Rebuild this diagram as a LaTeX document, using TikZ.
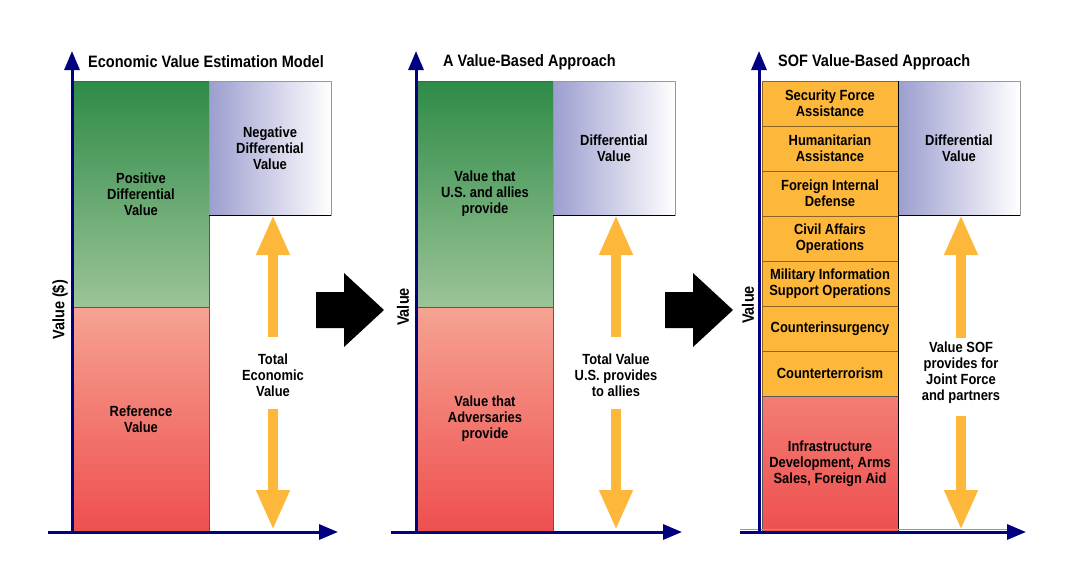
\documentclass[tikz,border=0pt]{standalone}
\usepackage{fontspec}
\setmainfont{Liberation Sans}[FakeStretch=0.88]
\usepackage{xcolor}
\usepackage{tikz}
\usetikzlibrary{arrows.meta, positioning}
\definecolor{axisblue}{HTML}{000080}
\definecolor{greentop}{HTML}{2E8B47}
\definecolor{greenbot}{HTML}{9CC497}
\definecolor{redtop}{HTML}{F6A392}
\definecolor{redbot}{HTML}{EE4F4F}
\definecolor{lilac}{HTML}{9C9ECF}
\definecolor{sofgold}{HTML}{FDB73A}
\newcommand{\boxfont}{\bfseries\fontsize{14.7}{16}\selectfont}
\newcommand{\headfont}{\bfseries\fontsize{16.5}{19}\selectfont}
\tikzset{
  valbox/.style={draw=black!65, line width=0.8pt, outer sep=0pt, inner sep=2pt, align=center, font=\boxfont},
  posbox/.style={valbox, top color=greentop, bottom color=greenbot, minimum width=136pt, minimum height=226pt},
  refbox/.style={valbox, top color=redtop, bottom color=redbot, minimum width=136pt, minimum height=224pt},
  diffbox/.style={valbox, draw=black!40, left color=lilac, right color=white, minimum width=122pt, minimum height=134pt},
  sofbox/.style={valbox, fill=sofgold, draw=sofgold!55!black, minimum width=136pt, minimum height=45pt},
  axis/.style={draw=axisblue, line width=3pt, -{Triangle[length=19pt,width=15pt]}},
  valarrow/.style={draw=sofgold, line width=10pt, -{Triangle[length=40pt,width=31pt]}},
  paneltitle/.style={anchor=west, inner sep=0pt, font=\headfont},
  axislabel/.style={rotate=90, inner sep=0pt, font=\headfont},
  arrowtext/.style={align=center, inner sep=0pt, font=\boxfont}
}

\begin{document}
\begin{tikzpicture}[x=1pt, y=-1pt]
  \useasboundingbox[fill=white] (0,0) rectangle (1067,560);

  % panel 1
  \node[posbox, anchor=north west] (pos1) at (73,81) {Positive\\Differential\\Value};
  \node[refbox, below=0pt of pos1] (ref1) {Reference\\Value};
  \node[diffbox, below right=0pt and 0pt of pos1.north east] (neg1) {Negative\\Differential\\Value};
  \draw[black, line width=0.8pt] (neg1.south west) -- (neg1.south east);
  \node[paneltitle] (title1) at (88,62) {Economic Value Estimation Model};
  \node[axislabel] (ylab1) at (60,310) {Value (\$)};
  \node[arrowtext] (tev1) at (273,375) {Total\\Economic\\Value};
  \coordinate (o1) at (72,532);
  \coordinate (y1) at (72,51);
  \coordinate (s1) at (48,532);
  \coordinate (x1) at (338,532);
  \draw[axis] (o1) -- (y1);
  \draw[axis] (s1) -- (x1);
  \draw[valarrow, shorten <=16pt] (tev1.north) -- (tev1.north |- neg1.south);
  \draw[valarrow, shorten <=12pt, shorten >=2pt] (tev1.south) -- (tev1.south |- o1);

  % panel 2
  \node[posbox, anchor=north west] (pos2) at (417,81) {Value that\\U.S. and allies\\provide};
  \node[refbox, below=0pt of pos2] (ref2) {Value that\\Adversaries\\provide};
  \node[diffbox, below right=0pt and 0pt of pos2.north east] (diff2) {Differential\\Value};
  \draw[black, line width=0.8pt] (diff2.south west) -- (diff2.south east);
  \node[paneltitle] (title2) at (443,62) {A Value-Based Approach};
  \node[axislabel] (ylab2) at (403,307) {Value};
  \node[arrowtext] (tv2) at (616,375) {Total Value\\U.S. provides\\to allies};
  \coordinate (o2) at (416,532);
  \coordinate (y2) at (416,51);
  \coordinate (s2) at (391,532);
  \coordinate (x2) at (682,532);
  \draw[axis] (o2) -- (y2);
  \draw[axis] (s2) -- (x2);
  \draw[valarrow, shorten <=16pt] (tv2.north) -- (tv2.north |- diff2.south);
  \draw[valarrow, shorten <=12pt, shorten >=2pt] (tv2.south) -- (tv2.south |- o2);

  % panel 3
  \node[sofbox, anchor=north west] (sfa) at (762,81) {Security Force\\Assistance};
  \node[sofbox, below=0pt of sfa] (ha) {Humanitarian\\Assistance};
  \node[sofbox, below=0pt of ha] (fid) {Foreign Internal\\Defense};
  \node[sofbox, below=0pt of fid] (cao) {Civil Affairs\\Operations};
  \node[sofbox, below=0pt of cao] (miso) {Military Information\\Support Operations};
  \node[sofbox, below=0pt of miso] (coin) {Counterinsurgency};
  \node[sofbox, below=0pt of coin] (ct) {Counterterrorism};
  \node[refbox, top color=redtop!55!redbot, minimum height=135pt, below=0pt of ct] (infra) {Infrastructure\\Development, Arms\\Sales, Foreign Aid};
  \node[diffbox, below right=0pt and 0pt of sfa.north east] (diff3) {Differential\\Value};
  \draw[black, line width=0.8pt] (diff3.south west) -- (diff3.south east);
  \draw[black, line width=0.8pt] (sfa.north east) -- (infra.south east);
  \node[paneltitle] (title3) at (778,62) {SOF Value-Based Approach};
  \node[axislabel] (ylab3) at (748,305) {Value};
  \node[arrowtext] (sofv) at (961,373) {Value SOF\\provides for\\Joint Force\\and partners};
  \coordinate (o3) at (759,532);
  \coordinate (y3) at (759,51);
  \coordinate (s3) at (740,532);
  \coordinate (x3) at (1026,532);
  \draw[black!40, line width=1pt] (s3) ++(0,-2.5) -- ++(268,0);
  \draw[axis] (o3) -- (y3);
  \draw[axis] (s3) -- (x3);
  \draw[valarrow, shorten <=4pt] (sofv.north) -- (sofv.north |- diff3.south);
  \draw[valarrow, shorten <=12pt, shorten >=2pt] (sofv.south) -- (sofv.south |- o3);

  % block arrows between panels
  \foreach \ax in {316,665}
    \fill[black] (\ax,292) -- ++(28,0) -- ++(0,-19) -- ++(40,37) -- ++(-40,37) -- ++(0,-19) -- ++(-28,0) -- cycle;
\end{tikzpicture}
\end{document}
